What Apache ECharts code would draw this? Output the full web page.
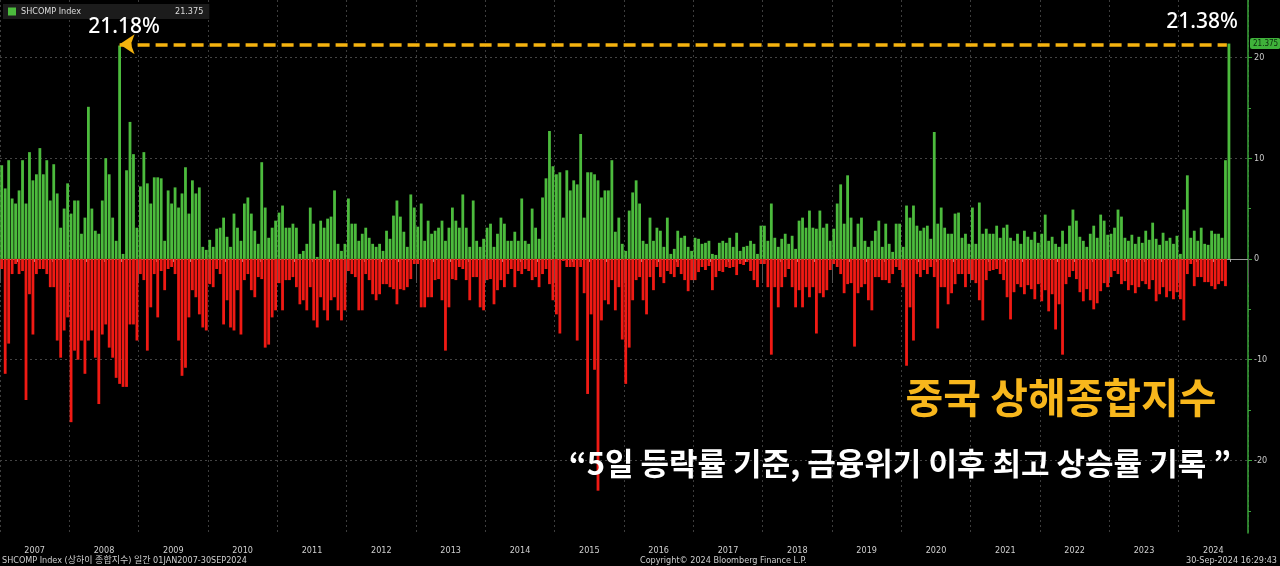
<!DOCTYPE html>
<html>
<head>
<meta charset="utf-8">
<title>SHCOMP Index 5일 등락률</title>
<script src="https://cdn.jsdelivr.net/npm/echarts@6.0.0/dist/echarts.min.js"></script>
<style>
  html, body { margin: 0; padding: 0; background: #000; }
  #chart { width: 1280px; height: 566px; }
</style>
</head>
<body>
<div id="chart"></div>
<script>
// 상해종합지수 5일 등락률(%) - 연도별 20구간, 구간별 최대 상승/최대 하락
const years = [2007, 2008, 2009, 2010, 2011, 2012, 2013, 2014, 2015, 2016, 2017, 2018, 2019, 2020, 2021, 2022, 2023, 2024];
const perYear = 20;

const up07 = [9.3, 7.0, 9.8, 6.0, 5.5, 6.8, 9.8, 5.5, 10.6, 7.8, 8.4, 11.0, 8.4, 9.8, 5.8, 9.4, 6.5, 3.1, 5.0, 7.5];
const dn07 = [-1.0, -11.4, -8.4, -1.5, -0.5, -1.5, -1.2, -14.0, -3.5, -7.5, -1.5, -1.0, -1.0, -1.5, -2.8, -2.8, -8.1, -9.8, -7.1, -5.8];
const up08 = [4.5, 5.8, 5.8, 2.5, 4.1, 15.1, 5.0, 2.8, 2.5, 5.8, 10.0, 8.4, 4.1, 1.8, 21.18, 0.5, 8.8, 13.6, 10.4, 3.1];
const dn08 = [-16.2, -9.1, -10.0, -8.1, -11.4, -8.1, -7.1, -9.8, -14.4, -7.5, -6.5, -8.8, -9.8, -11.8, -12.4, -12.7, -12.7, -6.5, -6.5, -8.1];
const up09 = [7.2, 10.6, 7.5, 5.5, 8.1, 8.1, 8.0, 1.8, 6.8, 5.5, 7.1, 5.1, 6.5, 9.1, 4.5, 7.8, 6.5, 7.1, 1.2, 0.9];
const dn09 = [-1.5, -2.1, -9.1, -4.8, -1.5, -5.8, -1.2, -3.1, -1.0, -0.8, -1.5, -8.1, -11.6, -10.8, -5.8, -3.1, -3.8, -5.5, -6.8, -7.1];
const up10 = [1.9, 1.2, 3.0, 3.1, 4.1, 2.2, 1.2, 4.5, 3.1, 1.8, 5.5, 6.1, 4.5, 2.8, 1.5, 9.6, 5.1, 2.1, 3.1, 3.8];
const dn10 = [-2.5, -2.8, -1.0, -1.5, -6.5, -4.1, -6.8, -7.1, -3.1, -7.5, -2.1, -1.5, -3.1, -3.8, -1.8, -2.0, -8.8, -8.5, -5.8, -5.1];
const up11 = [4.6, 5.3, 3.1, 3.1, 3.5, 3.1, 0.5, 0.8, 1.5, 5.1, 3.5, 0.2, 3.8, 3.1, 4.0, 4.2, 6.8, 1.5, 0.8, 1.5];
const dn11 = [-2.4, -5.1, -2.1, -2.1, -1.8, -2.8, -4.5, -4.1, -5.1, -2.8, -6.1, -6.8, -3.8, -5.1, -6.1, -4.1, -3.8, -5.1, -6.1, -5.1];
const up12 = [6.0, 3.5, 3.5, 1.8, 2.5, 3.1, 2.1, 1.5, 1.2, 1.5, 0.8, 2.8, 2.0, 4.3, 5.8, 4.2, 2.7, 1.2, 6.4, 5.1];
const dn12 = [-1.2, -1.5, -1.8, -5.1, -5.1, -1.5, -2.1, -3.5, -4.1, -3.5, -2.5, -2.5, -2.8, -3.0, -4.5, -3.0, -3.1, -2.8, -2.0, -0.5];
const up13 = [3.2, 5.5, 1.8, 3.8, 2.5, 2.8, 3.1, 3.8, 1.8, 3.1, 5.1, 3.8, 3.1, 6.4, 3.1, 1.2, 5.8, 1.8, 1.2, 2.0];
const dn13 = [-0.5, -4.8, -4.8, -3.8, -3.8, -2.1, -2.0, -4.1, -9.1, -4.8, -2.0, -2.1, -0.8, -1.0, -2.1, -4.1, -1.8, -1.8, -4.8, -5.1];
const up14 = [3.1, 3.5, 1.2, 2.5, 4.1, 3.5, 1.8, 1.8, 2.7, 1.8, 6.0, 1.8, 1.5, 5.0, 3.1, 2.0, 6.1, 8.0, 12.7, 9.2];
const dn14 = [-2.1, -2.0, -4.5, -3.1, -2.1, -2.8, -1.5, -1.0, -2.8, -1.2, -1.5, -1.0, -1.2, -2.1, -1.8, -2.8, -1.5, -1.0, -2.5, -4.1];
const up15 = [8.4, 8.6, 4.1, 8.8, 6.8, 7.8, 7.4, 12.4, 4.1, 8.6, 8.6, 8.4, 7.8, 6.1, 6.8, 6.8, 9.8, 2.7, 4.1, 1.5];
const dn15 = [-5.5, -7.4, -0.2, -0.8, -0.8, -0.8, -8.1, -0.8, -3.4, -13.4, -5.5, -11.0, -23.0, -6.1, -4.1, -4.5, -2.1, -5.1, -2.8, -8.0];
const up16 = [0.8, 4.8, 6.6, 7.8, 5.5, 1.8, 1.5, 4.1, 1.8, 3.1, 2.8, 1.2, 4.1, 0.5, 1.0, 2.8, 2.1, 2.3, 1.2, 0.8];
const dn16 = [-12.4, -8.8, -4.1, -2.1, -1.8, -4.1, -5.5, -1.8, -3.1, -0.8, -1.8, -2.4, -1.2, -1.5, -1.8, -0.8, -1.5, -2.1, -3.2, -2.1];
const up17 = [2.1, 2.0, 1.5, 1.6, 1.8, 0.5, 0.4, 1.6, 1.8, 1.6, 2.1, 1.2, 2.6, 0.8, 1.2, 1.3, 1.8, 1.5, 0.5, 3.3];
const dn17 = [-2.1, -1.3, -0.8, -1.1, -0.7, -3.1, -1.8, -1.2, -1.3, -0.8, -0.9, -0.8, -1.6, -0.5, -0.6, -0.3, -1.2, -2.1, -2.8, -0.5];
const up18 = [3.3, 1.8, 5.5, 2.1, 1.2, 2.0, 2.5, 1.5, 2.3, 1.0, 3.8, 4.1, 3.1, 4.8, 3.1, 3.0, 4.8, 3.1, 3.5, 1.8];
const dn18 = [-0.5, -2.8, -9.5, -2.8, -4.8, -2.8, -1.8, -1.0, -2.8, -4.8, -3.1, -4.8, -2.8, -3.8, -2.8, -7.4, -3.4, -3.8, -3.1, -1.1];
const up19 = [3.0, 5.5, 7.4, 3.5, 8.3, 4.1, 1.2, 3.5, 4.1, 1.8, 1.2, 1.8, 2.8, 3.8, 1.2, 3.5, 1.5, 0.7, 3.5, 3.5];
const dn19 = [-0.5, -0.8, -1.5, -3.4, -2.5, -2.4, -8.7, -3.4, -2.8, -2.5, -4.1, -5.1, -1.8, -1.8, -2.1, -2.1, -2.4, -1.5, -0.8, -1.1];
const up20 = [1.2, 5.3, 4.1, 5.3, 3.3, 2.8, 3.1, 3.3, 2.0, 12.6, 3.5, 5.1, 3.1, 2.5, 2.5, 4.5, 4.6, 2.1, 2.5, 1.5];
const dn20 = [-2.8, -10.6, -4.8, -8.1, -1.5, -1.8, -1.1, -1.5, -0.8, -1.8, -6.9, -2.8, -2.8, -4.5, -3.4, -2.5, -1.5, -1.5, -2.8, -1.5];
const up21 = [5.1, 1.5, 5.6, 2.5, 3.0, 2.5, 2.5, 3.3, 2.1, 3.1, 3.4, 2.1, 1.8, 2.5, 1.5, 2.8, 2.2, 1.9, 2.7, 1.6];
const dn21 = [-2.1, -2.4, -4.1, -6.1, -2.1, -1.2, -1.1, -1.0, -1.5, -2.1, -3.8, -6.0, -3.3, -2.5, -2.8, -3.5, -2.6, -3.0, -4.0, -2.5];
const up22 = [2.5, 4.4, 1.8, 2.2, 1.5, 1.2, 2.8, 1.5, 3.3, 4.9, 3.8, 2.2, 1.8, 1.2, 2.5, 3.3, 2.1, 4.4, 3.8, 2.4];
const dn22 = [-4.2, -3.1, -5.2, -3.5, -7.0, -4.5, -9.5, -2.5, -1.8, -1.2, -2.0, -3.3, -4.2, -3.0, -4.1, -5.0, -4.4, -3.2, -2.4, -2.8];
const up23 = [2.5, 3.1, 4.9, 4.2, 2.1, 1.8, 2.4, 1.5, 2.2, 1.6, 2.8, 1.9, 3.6, 2.0, 1.4, 2.6, 1.8, 2.1, 1.5, 2.3];
const dn23 = [-1.8, -1.2, -1.5, -2.5, -2.2, -3.1, -2.6, -3.4, -2.8, -2.2, -2.5, -3.0, -2.1, -4.2, -3.5, -2.8, -3.8, -3.2, -4.0, -3.3];
const up24 = [0.5, 4.9, 8.3, 2.1, 2.8, 1.8, 3.1, 1.5, 1.4, 2.8, 2.5, 2.5, 2.1, 9.8, 21.375];
const dn24 = [-4.0, -6.1, -1.5, -0.5, -2.7, -1.8, -1.8, -2.3, -2.3, -2.7, -3.0, -2.5, -2.2, -2.7, 0];

const upByYear = [up07, up08, up09, up10, up11, up12, up13, up14, up15, up16, up17, up18, up19, up20, up21, up22, up23, up24];
const dnByYear = [dn07, dn08, dn09, dn10, dn11, dn12, dn13, dn14, dn15, dn16, dn17, dn18, dn19, dn20, dn21, dn22, dn23, dn24];

const yLabels = [-20, -10, 0, 10, 20];
const yMinorTicks = [-25, -15, -5, 5, 15];
const lastValue = up24[up24.length - 1];

// [연도 위치, 값] 으로 변환
const upData = [];
const dnData = [];
years.forEach((yr, i) => {
  upByYear[i].forEach((v, k) => upData.push([yr + (k + 0.5) / perYear, v]));
  dnByYear[i].forEach((v, k) => dnData.push([yr + (k + 0.5) / perYear, v]));
});

const peakIdx = up08.indexOf(Math.max(...up08));
const peakX = 2008 + (peakIdx + 0.5) / perYear;
const lastX = upData[upData.length - 1][0];
const arrowLevel = 21.3;

const smallFont = "'Liberation Sans Narrow', 'DejaVu Sans Condensed', 'Noto Sans CJK KR', sans-serif";
const korFont = "'Noto Sans CJK KR', sans-serif";
const numFont = "'Noto Sans', 'Open Sans', sans-serif";

const chart = echarts.init(document.getElementById('chart'));

const option = {
  backgroundColor: '#000',
  animation: false,
  grid: {
    left: 0, right: 32, top: 0, bottom: 33,
    containLabel: false,
    outerBoundsMode: 'none'
  },
  legend: {
    data: ['SHCOMP Index'],
    left: 3, top: 4,
    icon: 'rect',
    itemWidth: 8, itemHeight: 8, itemGap: 4,
    selectedMode: false,
    backgroundColor: '#1c1c1c',
    padding: [3, 6, 3, 5],
    formatter: name => `{n|${name}}{v|${lastValue}}`,
    textStyle: {
      color: '#ddd',
      fontFamily: smallFont,
      rich: {
        n: { width: 154, fontSize: 9, color: '#ddd', fontFamily: smallFont },
        v: { fontSize: 9, color: '#ddd', fontFamily: smallFont }
      }
    }
  },
  xAxis: [
    {
      type: 'value',
      min: 2007, max: 2025, interval: 0.25,
      position: 'bottom',
      axisLine: { show: false },
      axisLabel: { show: false },
      splitLine: { show: false },
      axisTick: { show: true, length: 3, lineStyle: { color: '#aaa' } }
    },
    {
      type: 'category',
      data: years.map(String),
      position: 'bottom',
      boundaryGap: true,
      axisLine: { show: true, lineStyle: { color: '#999', width: 1 } },
      axisTick: { show: true, interval: 0, length: 24, lineStyle: { color: '#555' } },
      axisLabel: { interval: 0, color: '#cfcfcf', fontSize: 9, margin: 13, fontFamily: smallFont },
      splitLine: { show: true, interval: 0, lineStyle: { color: '#3d3d3d', type: [2, 3] } }
    }
  ],
  yAxis: [
    {
      type: 'value',
      position: 'right',
      min: -27.2, max: 25.7,
      axisLine: { show: true, lineStyle: { color: '#3aa63a', width: 1.5 } },
      axisTick: { show: true, customValues: yLabels, length: 4, lineStyle: { color: '#3aa63a' } },
      axisLabel: { customValues: yLabels, color: '#c8c8c8', fontSize: 9, margin: 6, fontFamily: smallFont },
      splitLine: { show: true, lineStyle: { color: '#444', type: [2, 3] } }
    },
    {
      type: 'value',
      position: 'right',
      min: -27.2, max: 25.7,
      axisLine: { show: false },
      axisTick: { show: true, customValues: yMinorTicks, length: 3, lineStyle: { color: '#3aa63a' } },
      axisLabel: { show: false },
      splitLine: { show: false }
    }
  ],
  series: [
    {
      name: 'SHCOMP Index',
      type: 'bar',
      xAxisIndex: 0, yAxisIndex: 0,
      data: upData,
      barWidth: 2.8,
      barGap: '-100%',
      silent: true,
      itemStyle: { color: '#4cbb3d' },
      markLine: {
        silent: true,
        symbol: ['arrow', 'none'],
        symbolSize: 15,
        label: { show: false },
        lineStyle: { color: '#f5b30f', width: 3.5, type: [12, 6] },
        data: [[
          { coord: [peakX, arrowLevel] },
          { coord: [lastX - 0.03, arrowLevel] }
        ]]
      }
    },
    {
      name: 'SHCOMP Index',
      type: 'bar',
      xAxisIndex: 0, yAxisIndex: 0,
      data: dnData,
      barWidth: 2.8,
      barGap: '-100%',
      silent: true,
      itemStyle: { color: '#f01a14' }
    }
  ],
  graphic: [
    {
      type: 'text', z: 100, silent: true,
      style: { x: 124, y: 27, text: '21.18%', fill: '#fff', font: `500 21px ${numFont}`, align: 'center', verticalAlign: 'middle' }
    },
    {
      type: 'text', z: 100, silent: true,
      style: { x: 1202, y: 22, text: '21.38%', fill: '#fff', font: `500 21px ${numFont}`, align: 'center', verticalAlign: 'middle' }
    },
    {
      type: 'text', z: 100, silent: true,
      style: {
        x: 1061, y: 397, text: '중국 상해종합지수',
        fill: '#f8b71c', font: `bold 41px ${korFont}`,
        align: 'center', verticalAlign: 'middle'
      }
    },
    {
      type: 'text', z: 100, silent: true,
      style: {
        x: 1231, y: 463, text: '“5일 등락률 기준, 금융위기 이후 최고 상승률 기록 ”',
        fill: '#fff', font: `bold 31px ${korFont}`,
        align: 'right', verticalAlign: 'middle'
      }
    },
    {
      type: 'text', silent: true,
      style: {
        x: 2, y: 561, text: 'SHCOMP Index (상하이 종합지수) 일간 01JAN2007-30SEP2024',
        fill: '#cfcfcf', font: `9px ${smallFont}`, verticalAlign: 'middle'
      }
    },
    {
      type: 'text', silent: true,
      style: {
        x: 640, y: 561, text: 'Copyright© 2024 Bloomberg Finance L.P.',
        fill: '#cfcfcf', font: `9px ${smallFont}`, verticalAlign: 'middle'
      }
    },
    {
      type: 'text', silent: true,
      style: {
        x: 1277, y: 561, text: '30-Sep-2024 16:29:43',
        fill: '#cfcfcf', font: `9px ${smallFont}`, align: 'right', verticalAlign: 'middle'
      }
    }
  ]
};

chart.setOption(option);

// 오른쪽 축의 마지막 값 태그
const tagY = chart.convertToPixel({ yAxisIndex: 0 }, lastValue);
const axisX = chart.convertToPixel({ xAxisIndex: 0 }, 2025);
option.graphic.push({
  type: 'text', z: 100, silent: true,
  style: {
    x: axisX + 2, y: tagY, text: String(lastValue),
    fill: '#0c2a0c', backgroundColor: '#3fb23a',
    padding: [2, 2, 1, 3], borderRadius: 2,
    font: `8px ${smallFont}`, verticalAlign: 'middle'
  }
});
chart.setOption(option, true);
</script>
</body>
</html>
